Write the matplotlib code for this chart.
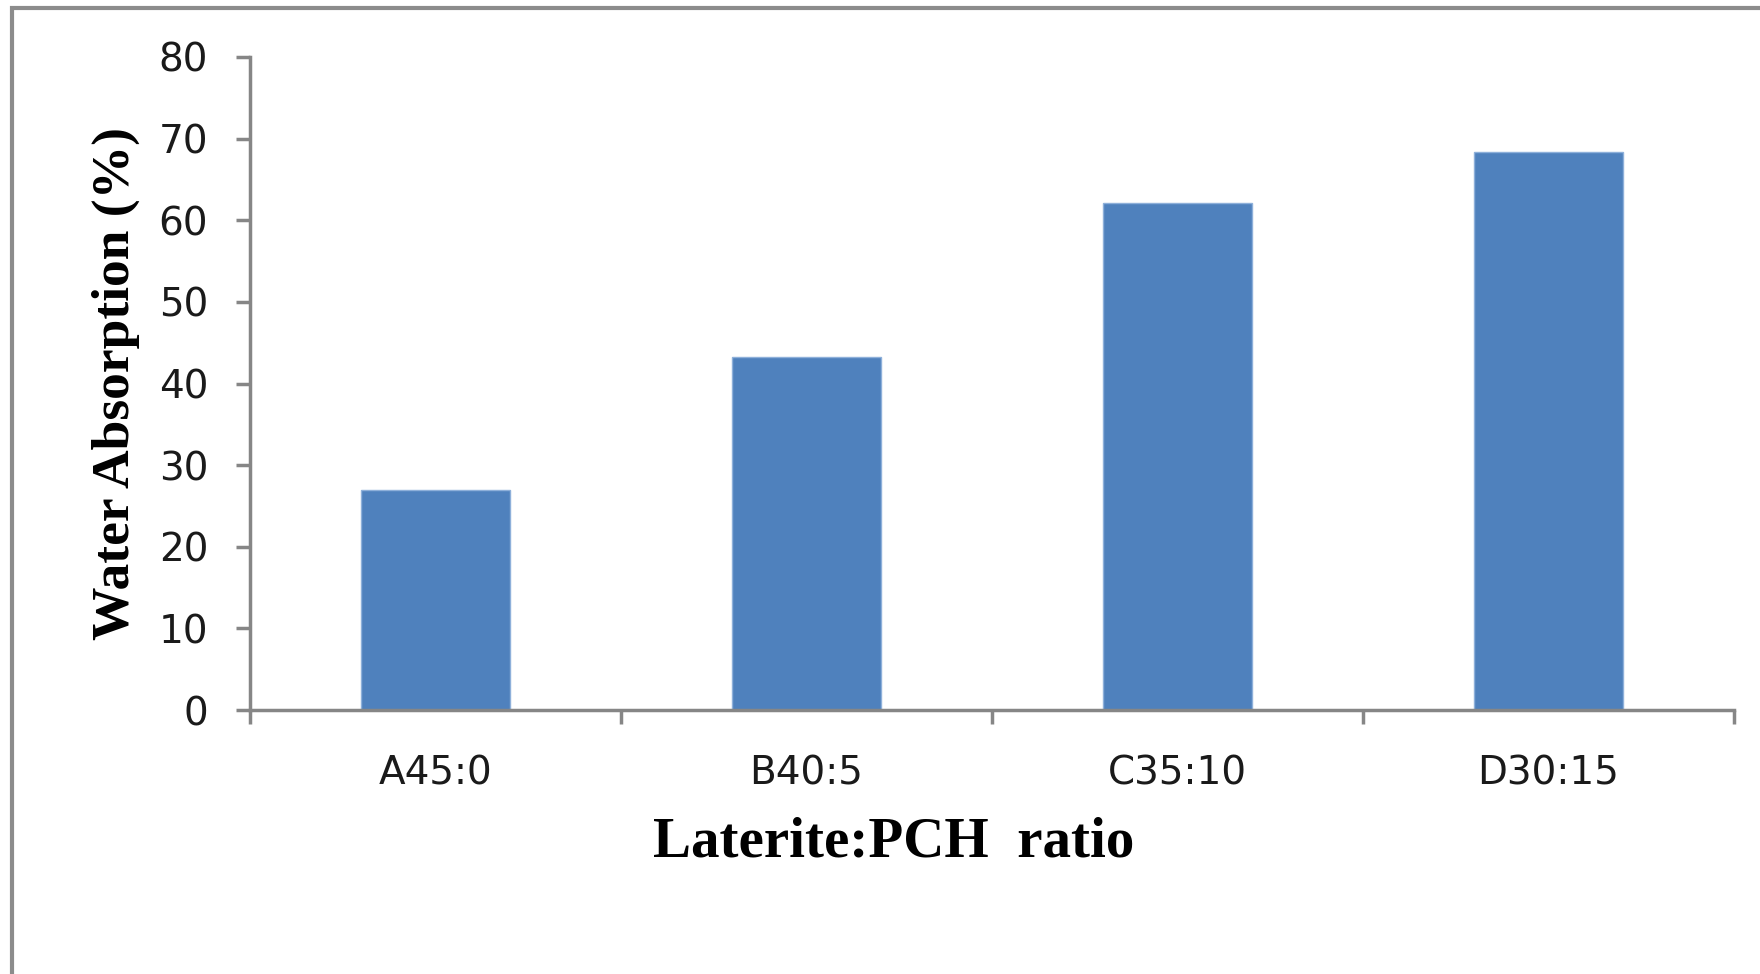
import numpy as np
import matplotlib.pyplot as plt
from matplotlib.patches import Rectangle

# data
ratios = ['A45:0', 'B40:5', 'C35:10', 'D30:15']
absorption = [26.9, 43.3, 62.1, 68.4]

fig = plt.figure(figsize=(17.6, 9.74), dpi=100)
fig.patch.set_facecolor('white')

# grey frame around the chart area (runs off right/bottom like the reference)
fig.patches.append(Rectangle((12 / 1760, -0.2), 1.5, 1.2 - 8 / 974,
                             transform=fig.transFigure, fill=False,
                             edgecolor='#8c8c8c', linewidth=3, zorder=0))

ax = fig.add_axes([250 / 1760, 1 - 710 / 974, (1734 - 250) / 1760, (710 - 57) / 974])

x = np.arange(len(ratios))
ax.bar(x, absorption, width=0.4, color='#4F81BD', edgecolor='#8eb0da', linewidth=1, zorder=2)

ax.set_xlim(-0.5, len(ratios) - 0.5)
ax.set_ylim(0, 80)
ax.set_yticks(np.arange(0, 81, 10))

# ticks at category boundaries, labels centred under bars
ax.set_xticks(np.arange(-0.5, len(ratios), 1.0))
ax.set_xticklabels([])
ax.set_xticks(x, minor=True)
ax.set_xticklabels(ratios, minor=True)

for s in ['top', 'right']:
    ax.spines[s].set_visible(False)
for s in ['left', 'bottom']:
    ax.spines[s].set_color('#868686')
    ax.spines[s].set_linewidth(2.5)

ax.tick_params(axis='y', direction='out', length=10, width=2.5, color='#868686',
               labelsize=28, labelcolor='#1a1a1a', pad=20)
ax.tick_params(axis='x', which='major', direction='out', length=10, width=2.5, color='#868686')
ax.tick_params(axis='x', which='minor', length=0, labelsize=28, labelcolor='#1a1a1a', pad=32)

for lab in ax.get_xticklabels(minor=True) + ax.get_yticklabels():
    lab.set_family('DejaVu Sans')

ax.set_xlabel('Laterite:PCH  ratio', fontsize=41, fontweight='bold', family='Liberation Serif')
ax.xaxis.set_label_coords(0.4335, -0.163)
ax.set_ylabel('Water Absorption (%)', fontsize=38.5, fontweight='bold', family='Liberation Serif')
ax.yaxis.set_label_coords(-0.074, 0.5)

fig.savefig('out.png', dpi=100)
